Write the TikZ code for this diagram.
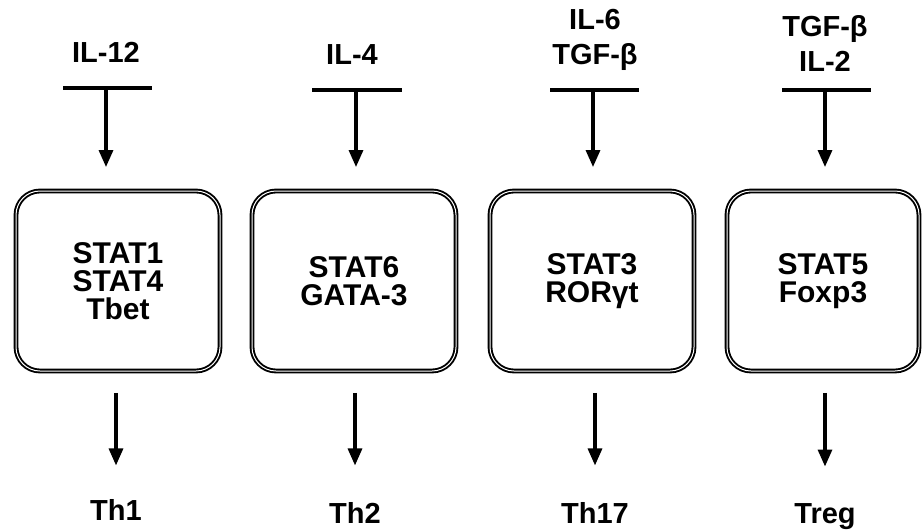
\documentclass[tikz,border=0pt]{standalone}
\usepackage{fontspec}
\setmainfont{Liberation Sans}
\usetikzlibrary{arrows.meta}

\begin{document}
\begin{tikzpicture}[x=1pt,y=-1pt]
        % Define styles
        \tikzset{
            cytokine/.style={font=\bfseries\fontsize{29}{35}\selectfont, align=center},
            factor/.style={rectangle, draw, rounded corners=24pt, line width=1.9pt, double=white, double distance=1pt, minimum width=204pt, minimum height=180pt, font=\bfseries\fontsize{30}{28}\selectfont, align=center},
            subset/.style={anchor=base, font=\bfseries\fontsize{29}{30}\selectfont},
            bar/.style={line width=3.4pt},
            arrow/.style={-{Triangle[width=14pt,length=17pt]}, line width=3.2pt}
        }
        \useasboundingbox (0,0) rectangle (924,531);

        % Cytokines
        \node[cytokine] (cyt_1) at (106,52) {IL-12};
        \node[cytokine] (cyt_2) at (352,55) {IL-4};
        \node[cytokine] (cyt_3) at (595,40) {IL-6\\TGF-β};
        \node[cytokine] (cyt_4) at (825,43) {TGF-β\\IL-2};

        % Bars
        \coordinate (bar_1) at (106,88);
        \coordinate (bar_2) at (356,90);
        \coordinate (bar_3) at (593,90);
        \coordinate (bar_4) at (825,90);
        \draw[bar] ([xshift=-43pt]bar_1) -- ([xshift=46pt]bar_1);
        \draw[bar] ([xshift=-44pt]bar_2) -- ([xshift=46pt]bar_2);
        \draw[bar] ([xshift=-43pt]bar_3) -- ([xshift=46pt]bar_3);
        \draw[bar] ([xshift=-43pt]bar_4) -- ([xshift=46pt]bar_4);

        % Transcription factors
        \node[factor] (factor_1) at (118,281) {STAT1\\STAT4\\Tbet};
        \node[factor] (factor_2) at (354,281) {STAT6\\GATA-3};
        \node[factor] (factor_3) at (592,281) {STAT3\\RORγt};
        \node[factor, minimum width=192pt] (factor_4) at (823,281) {STAT5\\Foxp3};

        % T helper subsets
        \node[subset] (subset_1) at (116,520) {Th1};
        \node[subset] (subset_2) at (355,523) {Th2};
        \node[subset] (subset_3) at (595,523) {Th17};
        \node[subset] (subset_4) at (825,523) {Treg};

        % Arrows
        \draw[arrow, shorten >=23pt] (bar_1) -- (bar_1 |- factor_1.north);
        \draw[arrow, shorten >=23pt] (bar_2) -- (bar_2 |- factor_2.north);
        \draw[arrow, shorten >=23pt] (bar_3) -- (bar_3 |- factor_3.north);
        \draw[arrow, shorten >=23pt] (bar_4) -- (bar_4 |- factor_4.north);
        \draw[arrow, shorten <=21pt, shorten >=30pt] (subset_1 |- factor_1.south) -- (subset_1.north);
        \draw[arrow, shorten <=21pt, shorten >=33pt] (subset_2 |- factor_2.south) -- (subset_2.north);
        \draw[arrow, shorten <=21pt, shorten >=33pt] (subset_3 |- factor_3.south) -- (subset_3.north);
        \draw[arrow, shorten <=21pt, shorten >=33pt] (subset_4 |- factor_4.south) -- (subset_4.north);
\end{tikzpicture}
\end{document}
